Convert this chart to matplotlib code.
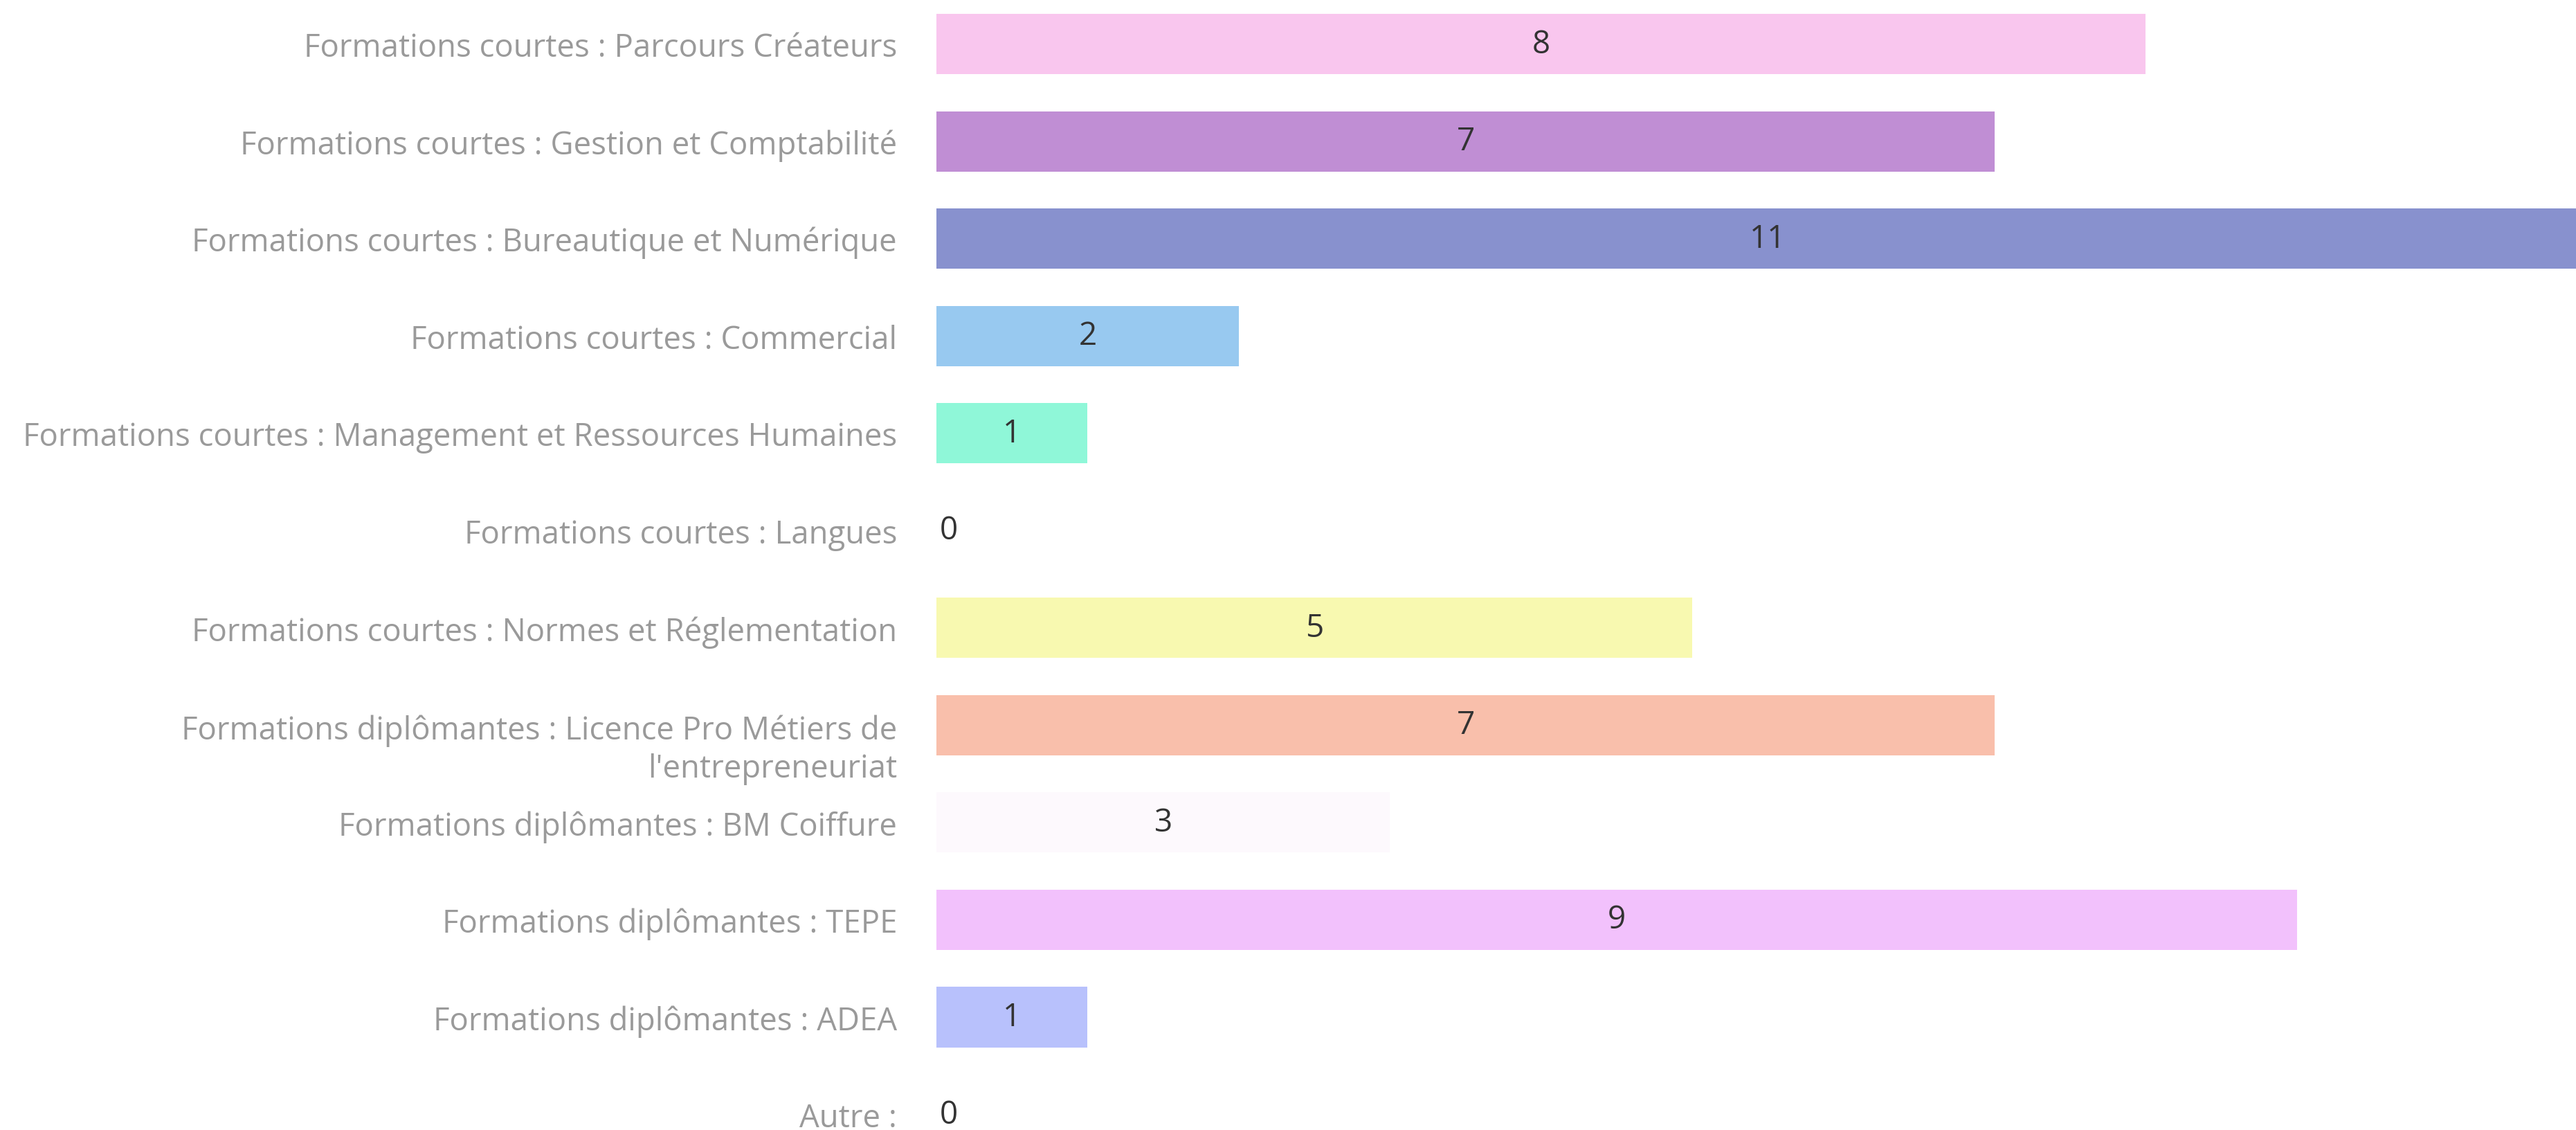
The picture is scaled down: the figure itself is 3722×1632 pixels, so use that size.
import matplotlib
matplotlib.use("Agg")
import matplotlib.pyplot as plt
import matplotlib.transforms as mtransforms

# data
categories = [
    "Formations courtes : Parcours Créateurs",
    "Formations courtes : Gestion et Comptabilité",
    "Formations courtes : Bureautique et Numérique",
    "Formations courtes : Commercial",
    "Formations courtes : Management et Ressources Humaines",
    "Formations courtes : Langues",
    "Formations courtes : Normes et Réglementation",
    "Formations diplômantes : Licence Pro Métiers de\nl'entrepreneuriat",
    "Formations diplômantes : BM Coiffure",
    "Formations diplômantes : TEPE",
    "Formations diplômantes : ADEA",
    "Autre :",
]
counts = [8, 7, 11, 2, 1, 0, 5, 7, 3, 9, 1, 0]
bar_colors = [
    "#f9c6ee", "#c08ed4", "#8891ce", "#98c9f0", "#8ff7d8", "#ffffff",
    "#f8f9b0", "#f9bfab", "#fdf9fd", "#f2c1fc", "#b8c1fc", "#ffffff",
]

plt.rcParams["font.family"] = ["Open Sans", "DejaVu Sans"]

fig = plt.figure(figsize=(37.23, 16.33), dpi=100)
ax = fig.add_axes([1353 / 3723, 0, 1 - 1353 / 3723, 1])

ypos = list(range(len(categories)))
bars = ax.barh(ypos, counts, height=0.62, color=bar_colors, edgecolor="none")

for y, v in zip(ypos, counts):
    if v == 0:
        ax.text(0.02, y, str(v), ha="left", va="center", fontsize=33, color="#333333")
    else:
        ax.text(v / 2, y, str(v), ha="center", va="center", fontsize=33, color="#333333")

ax.set_xlim(0, 10.85)
ax.set_ylim(11.16, -0.46)
ax.set_yticks(ypos)
ax.set_yticklabels(categories, fontsize=32.8, color="#9a9a9a")
ax.tick_params(axis="y", length=0, pad=41)
ax.set_xticks([])
for side in ax.spines.values():
    side.set_visible(False)

# wrapped label: first line sits on the tick, second line hangs below
for lbl in ax.get_yticklabels():
    if "\n" in lbl.get_text():
        lbl.set_linespacing(1.25)
        lbl.set_transform(lbl.get_transform() +
                          mtransforms.ScaledTranslation(0, -0.25, fig.dpi_scale_trans))

fig.savefig("out.png", dpi=100)
